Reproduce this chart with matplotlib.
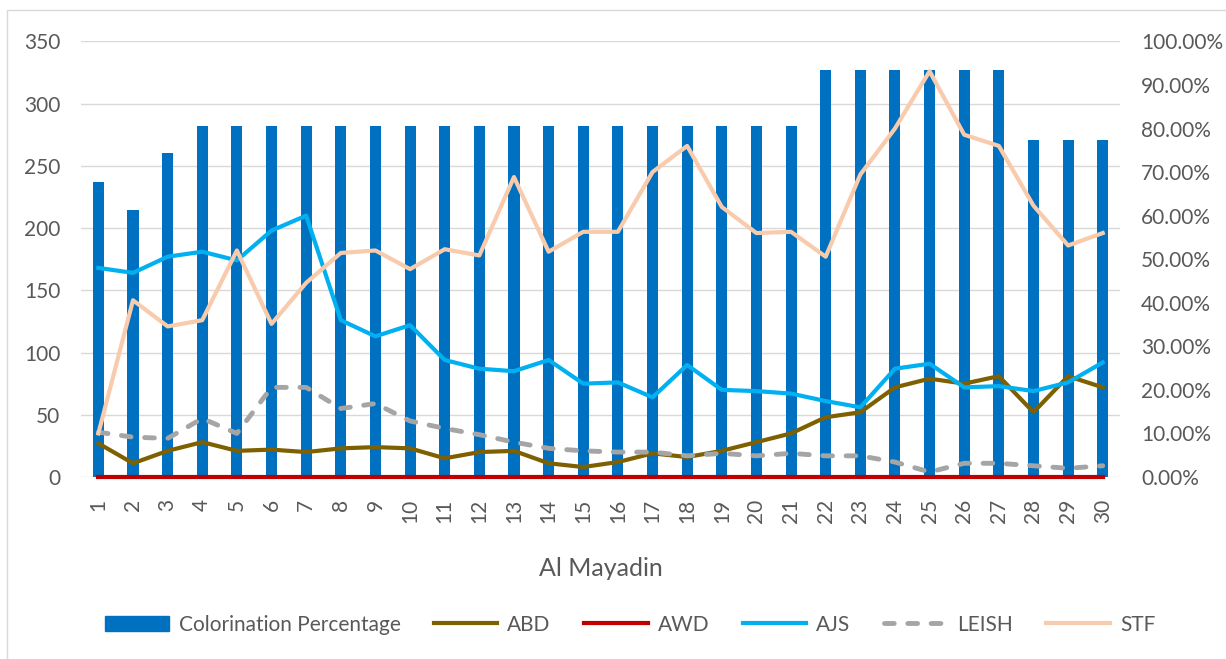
import matplotlib
matplotlib.use("Agg")
import matplotlib.pyplot as plt
from matplotlib.patches import Rectangle, Patch
from matplotlib.ticker import PercentFormatter
import numpy as np

plt.rcParams["font.family"] = ["Lato", "DejaVu Sans"]

DAYS = list(range(1, 31))

# Colorination percentage (right axis)
COLORINATION = [0.677, 0.614, 0.743] + [0.806] * 18 + [0.934] * 6 + [0.774] * 3

ABD = [27, 11, 21, 28, 21, 22, 20, 23, 24, 23, 15, 20, 21, 11, 8, 12, 19, 16,
       21, 28, 35, 48, 52, 72, 79, 75, 81, 52, 81, 72]
AWD = [0] * 30
AJS = [168, 164, 177, 181, 174, 198, 210, 126, 113, 122, 94, 87, 85, 94, 75, 76,
       64, 90, 70, 69, 67, 61, 56, 87, 91, 72, 73, 69, 76, 92]
LEISH = [36, 32, 31, 47, 35, 72, 72, 55, 59, 45, 39, 34, 28, 23, 21, 20, 20, 17,
         19, 17, 19, 17, 17, 12, 4, 11, 11, 9, 7, 9]
STF = [35, 142, 121, 126, 182, 123, 156, 180, 182, 167, 183, 178, 241, 181, 197,
       197, 245, 266, 217, 196, 197, 177, 243, 280, 326, 275, 266, 218, 186, 196]

COUNT_TICKS = np.arange(0, 351, 50)

TEXT = "#595959"


def main():
    fig = plt.figure(figsize=(12.26, 6.59), dpi=100)
    ax = fig.add_axes([0.0661, 0.2762, 0.8475, 0.661])
    ax_pct = ax.twinx()

    # bars behind, lines in front
    ax_pct.set_zorder(0)
    ax.set_zorder(1)
    ax.patch.set_visible(False)

    ax_pct.bar(DAYS, COLORINATION, width=0.32, color="#0070c0",
               label="Colorination Percentage", zorder=2)
    ax_pct.set_ylim(0, 1)
    ax_pct.set_yticks(np.arange(0, 1.01, 0.1))
    ax_pct.yaxis.set_major_formatter(PercentFormatter(1.0, decimals=2))
    # grid follows the count axis
    ax_pct.yaxis.remove_overlapping_locs = False
    ax_pct.set_yticks(COUNT_TICKS / 350, minor=True)
    ax_pct.grid(True, which="minor", axis="y", color="#d9d9d9", lw=1, zorder=0)
    ax_pct.tick_params(axis="y", which="both", length=0, colors=TEXT,
                       labelsize=15, pad=15)

    lw = 3
    ax.plot(DAYS, ABD, color="#7f6000", lw=lw, label="ABD")
    ax.plot(DAYS, AWD, color="#c00000", lw=lw, label="AWD", clip_on=False)
    ax.plot(DAYS, AJS, color="#00b0f0", lw=lw, label="AJS")
    ax.plot(DAYS, LEISH, color="#a5a5a5", lw=3.5, ls=(0, (2, 2.8)),
            dash_capstyle="round", label="LEISH")
    ax.plot(DAYS, STF, color="#f8cbad", lw=lw, label="STF")

    ax.set_ylim(0, 350)
    ax.set_yticks(COUNT_TICKS)
    ax.set_xlim(0.5, 30.5)
    ax.set_xticks(DAYS)
    ax.set_xticklabels([str(d) for d in DAYS], rotation=90)
    ax.tick_params(axis="y", length=0, colors=TEXT, labelsize=15, pad=15)
    ax.tick_params(axis="x", length=0, colors=TEXT, labelsize=15, pad=16)
    ax.set_xlabel("Al Mayadin", color=TEXT, fontsize=18, labelpad=24)

    for a in (ax, ax_pct):
        for s in a.spines.values():
            s.set_visible(False)

    handles = [Patch(color="#0070c0", label="Colorination Percentage")]
    handles += ax.get_lines()
    leg = fig.legend(handles=handles, loc="center", bbox_to_anchor=(0.514, 0.052),
                     ncol=6, frameon=False, fontsize=15, handlelength=3.05,
                     columnspacing=1.6, handletextpad=0.48)
    for t in leg.get_texts():
        t.set_color(TEXT)

    fig.patches.append(Rectangle((0.006, -0.02), 1.0, 1.005, transform=fig.transFigure,
                                 fill=False, edgecolor="#d9d9d9", lw=1))

    fig.savefig("out.png", dpi=100)


if __name__ == "__main__":
    main()
